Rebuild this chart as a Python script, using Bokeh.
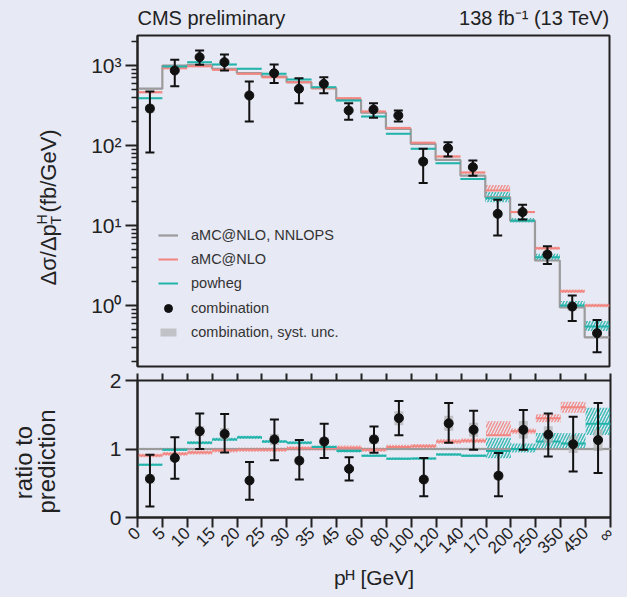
import math
from bokeh.plotting import figure
from bokeh.layouts import column, row
from bokeh.models import FixedTicker, Legend, LegendItem, LinearAxis, Range1d
from bokeh.core.properties import value
from bokeh.embed import file_html
from bokeh.resources import INLINE

BG = "#e7e9f5"
FONT = "Liberation Sans"
INK = "#222222"
GRAY = "#9b9b9b"
RED = "#f2857f"
TEAL = "#22b4aa"

# ---------------- data ----------------
edge_labels = ["0", "5", "10", "15", "20", "25", "30", "35", "45", "60", "80",
               "100", "120", "140", "170", "200", "250", "350", "450", "\u221e"]

data = [290, 866, 1271, 1100, 422, 801, 511, 590, 274, 282, 237, 63, 92.6, 53.6,
        14.0, 14.7, 4.34, 0.97, 0.45]
data_hi = [473, 1180, 1540, 1372, 630, 1030, 692, 714, 338, 338, 274, 91, 110, 65,
           21.0, 18.2, 5.5, 1.33, 0.66]
data_lo = [82, 550, 1020, 866, 200, 603, 338, 451, 210, 222, 200, 34, 73, 42,
           7.5, 11.9, 3.3, 0.64, 0.26]
syst_rel = [0.12, 0.07, 0.06, 0.07, 0.08, 0.07, 0.07, 0.06, 0.06, 0.06, 0.07,
            0.10, 0.08, 0.08, 0.10, 0.10, 0.10, 0.12, 0.14]

pred_nnlops = [513, 1000, 1020, 909, 801, 729, 618, 521, 372, 257, 161, 105, 66, 42,
               22.6, 11.5, 3.65, 0.95, 0.40]
pred_amcnlo = [464, 926, 980, 883, 787, 714, 618, 520, 390, 266, 166, 108, 73, 46,
               27.4, 14.7, 5.2, 1.51, 1.0]
pred_powheg = [390, 972, 1100, 1030, 910, 787, 668, 536, 365, 230, 140, 91, 60, 38,
               21.9, 11.5, 4.0, 1.0, 0.546]

nnlops_unc = [0.02, 0.02, 0.02, 0.02, 0.02, 0.02, 0.02, 0.02, 0.02, 0.02, 0.02,
              0.02, 0.02, 0.02, 0.02, 0.02, 0.02, 0.02, 0.02]
amc_up = [0.03, 0.03, 0.03, 0.03, 0.03, 0.03, 0.03, 0.03, 0.03, 0.03, 0.03,
          0.03, 0.03, 0.03, 0.17, 0.03, 0.04, 0.05, 0.05]
amc_dn = [0.03, 0.03, 0.03, 0.03, 0.03, 0.03, 0.03, 0.03, 0.03, 0.03, 0.03,
          0.03, 0.03, 0.03, 0.0, 0.03, 0.04, 0.05, 0.05]
pow_up = [0.02, 0.02, 0.02, 0.02, 0.02, 0.02, 0.02, 0.02, 0.02, 0.02, 0.02,
          0.02, 0.02, 0.02, 0.20, 0.08, 0.11, 0.14, 0.17]
pow_dn = [0.02, 0.02, 0.02, 0.02, 0.02, 0.02, 0.02, 0.02, 0.02, 0.02, 0.02,
          0.02, 0.02, 0.02, 0.11, 0.05, 0.09, 0.07, 0.12]

ratio_data = [0.565, 0.87, 1.26, 1.22, 0.54, 1.14, 0.83, 1.11, 0.71, 1.14, 1.45,
              0.555, 1.375, 1.28, 0.61, 1.28, 1.21, 1.07, 1.13]
ratio_hi = [0.915, 1.17, 1.52, 1.51, 0.81, 1.43, 1.13, 1.37, 0.88, 1.33, 1.70,
            0.87, 1.67, 1.56, 0.94, 1.57, 1.52, 1.47, 1.67]
ratio_lo = [0.16, 0.565, 1.0, 0.95, 0.26, 0.835, 0.555, 0.87, 0.54, 0.945, 1.2,
            0.31, 1.09, 0.99, 0.31, 0.99, 0.89, 0.67, 0.65]
ratio_nnlops = [1.0, 1.0, 1.0, 1.0, 1.0, 1.0, 1.0, 1.0, 1.0, 1.0, 1.0,
                1.0, 1.0, 1.0, 1.0, 1.0, 1.0, 1.0, 1.0]
ratio_amcnlo = [0.905, 0.93, 0.95, 0.98, 0.99, 0.99, 1.01, 1.01, 1.02, 0.99, 1.03,
                1.04, 1.11, 1.12, 1.20, 1.26, 1.45, 1.61, 2.5]
ratio_powheg = [0.77, 0.99, 1.09, 1.14, 1.17, 1.11, 1.09, 1.03, 0.97, 0.90, 0.857,
                0.86, 0.92, 0.90, 0.97, 1.0, 1.11, 1.08, 1.37]

nb = len(data)
left = list(range(nb))
right = [i + 1 for i in range(nb)]
center = [i + 0.5 for i in range(nb)]
edges = list(range(nb + 1))

# layout geometry (pixels)
LEFT_W = 78
FRAME_W = 472
RIGHT_B = 18
HEAD_H = 32
TOP_FRAME_H = 331
BOT_FRAME_H = 137
GAP_TOP = 12


def band(vals, up, dn):
    return [v * (1 + u) for v, u in zip(vals, up)], [v * (1 - d) for v, d in zip(vals, dn)]


def style_axes(p):
    for ax in p.axis:
        ax.axis_line_width = 2
        ax.axis_line_color = INK
        ax.major_tick_line_width = 2
        ax.major_tick_line_color = INK
        ax.minor_tick_line_color = INK
        ax.major_tick_in = 0
        ax.minor_tick_in = 0
        ax.major_label_text_font = FONT
        ax.major_label_text_color = INK
    p.xgrid.visible = False
    p.ygrid.visible = False
    p.outline_line_color = INK
    p.outline_line_width = 2
    p.outline_line_alpha = 1
    p.background_fill_color = BG
    p.border_fill_color = BG


def text_panel(w, h):
    f = figure(frame_width=w, frame_height=h, x_range=Range1d(0, w), y_range=Range1d(0, h),
               x_axis_type=None, y_axis_type=None, output_backend="svg",
               toolbar_location=None, min_border=0)
    f.outline_line_color = None
    f.background_fill_color = BG
    f.border_fill_color = BG
    f.xgrid.visible = False
    f.ygrid.visible = False
    return f


def put(f, x, y, txt, size, align="left", angle=0.0):
    f.text(x=[x], y=[y], text=[txt], angle=angle, text_font=value(FONT),
           text_font_size=size, text_color=INK, text_align=align,
           text_baseline="middle")


def draw_panel(p, nn, amc, pw, dval, dlo, dhi):
    for vals, up, dn, col in ((nn, nnlops_unc, nnlops_unc, GRAY),
                              (amc, amc_up, amc_dn, RED),
                              (pw, pow_up, pow_dn, TEAL)):
        top, bot = band(vals, up, dn)
        p.quad(left=left, right=right, top=top, bottom=bot, fill_alpha=0,
               line_alpha=0, hatch_pattern="/", hatch_color=col, hatch_alpha=0.85,
               hatch_scale=6, hatch_weight=1.5)
    r_nn = p.step(x=edges, y=list(nn) + [nn[-1]], mode="after", line_color=GRAY,
                  line_width=2.2)
    r_amc = p.segment(x0=left, x1=right, y0=amc, y1=amc, line_color=RED, line_width=2)
    r_pw = p.segment(x0=left, x1=right, y0=pw, y1=pw, line_color=TEAL, line_width=2)
    s_top = [v * (1 + s) for v, s in zip(dval, syst_rel)]
    s_bot = [v * (1 - s) for v, s in zip(dval, syst_rel)]
    r_sys = p.quad(left=[c - 0.18 for c in center], right=[c + 0.18 for c in center],
                   top=s_top, bottom=s_bot, fill_color="#b4b4b4", fill_alpha=0.75,
                   line_alpha=0)
    p.segment(x0=center, x1=center, y0=dlo, y1=dhi, line_color="#111111", line_width=2)
    p.scatter(x=center + center, y=list(dlo) + list(dhi), marker="dash", size=9,
              line_color="#111111", line_width=2)
    r_pt = p.scatter(x=center, y=dval, marker="circle", size=9, fill_color="#111111",
                     line_color="#111111")
    return r_nn, r_amc, r_pw, r_sys, r_pt


def make_legend(items, loc, gw, gh, lh, standoff, spacing=4):
    return Legend(items=items, location=loc, padding=0, margin=0, spacing=spacing,
                  glyph_width=gw, glyph_height=gh, label_height=lh,
                  label_standoff=standoff, label_text_font=FONT,
                  label_text_font_size="14.5px", label_text_color="#333333",
                  border_line_alpha=0, background_fill_alpha=0)


# ---------------- header ----------------
head = figure(frame_width=FRAME_W, frame_height=HEAD_H, x_range=Range1d(0, 1),
              y_range=Range1d(0, HEAD_H), x_axis_type=None, y_axis_type=None,
              output_backend="svg", toolbar_location=None, min_border=0,
              min_border_left=LEFT_W + 59, min_border_right=RIGHT_B)
head.outline_line_color = None
head.background_fill_color = BG
head.border_fill_color = BG
head.xgrid.visible = False
head.ygrid.visible = False
head.text(x=[0], y=[15], text=["CMS preliminary"], text_font=value(FONT),
          text_font_size="20px", text_color=INK, text_align="left", text_baseline="middle")
head.text(x=[1], y=[15], text=["138 fb\u207b\u00b9 (13 TeV)"], text_font=value(FONT),
          text_font_size="20px", text_color=INK, text_align="right", text_baseline="middle")

# ---------------- top panel ----------------
p1 = figure(frame_width=FRAME_W, frame_height=TOP_FRAME_H, x_range=Range1d(0, 19),
            y_range=Range1d(0.1728, 2371), y_axis_type="log", x_axis_location=None,
            output_backend="svg", toolbar_location=None,
            min_border_left=59, min_border_right=RIGHT_B, min_border_top=3,
            min_border_bottom=2)
style_axes(p1)
r_nn, r_amc, r_pw, r_sys, r_pt = draw_panel(p1, pred_nnlops, pred_amcnlo, pred_powheg,
                                           data, data_lo, data_hi)

minor = []
for e in range(-1, 4):
    for k in range(2, 10):
        minor.append(k * 10 ** e)
p1.yaxis.ticker = FixedTicker(ticks=[1, 10, 100, 1000], minor_ticks=minor)
p1.yaxis.major_label_overrides = {1: "10\u2070", 10: "10\u00b9", 100: "10\u00b2",
                                  1000: "10\u00b3"}
p1.yaxis.major_label_text_font_size = "21px"
p1.yaxis.major_tick_out = 12
p1.yaxis.minor_tick_out = 6
p1.yaxis.minor_tick_line_width = 1.5
p1.yaxis.major_label_standoff = 4

# legend-only renderer (no data): thin filled bar = error-bar symbol
r_bar = p1.quad(left=[], right=[], top=[], bottom=[], fill_color="#111111",
                line_color="#111111", line_width=0.5)

legA = make_legend([LegendItem(label="aMC@NLO, NNLOPS", renderers=[r_nn]),
                    LegendItem(label="aMC@NLO", renderers=[r_amc]),
                    LegendItem(label="powheg", renderers=[r_pw])],
                   (21, 73), 20, 20, 20, 13)
legBar = Legend(items=[LegendItem(label=" ", renderers=[r_bar])], location=(29.5, 49.5),
                padding=0, margin=0, glyph_width=3, glyph_height=15, label_height=15,
                label_standoff=0, label_text_font=FONT, label_text_font_size="14.5px",
                border_line_alpha=0, background_fill_alpha=0)
legB = make_legend([LegendItem(label="combination", renderers=[r_pt])],
                   (21, 48), 20, 20, 20, 13)
legC = make_legend([LegendItem(label="combination, syst. unc.", renderers=[r_sys])],
                   (21, 26), 20, 10, 10, 13)
p1.add_layout(legA)
p1.add_layout(legBar)
p1.add_layout(legB)
p1.add_layout(legC)

TOP_H = 3 + TOP_FRAME_H + 2
lf1 = text_panel(LEFT_W, TOP_H)
# y label: panel y = 368 - page_y
put(lf1, 48, 86, "\u0394\u03c3/\u0394p", "22px", angle=math.pi / 2)
put(lf1, 41, 147, "H", "14px", angle=math.pi / 2)
put(lf1, 55, 147, "T", "14px", angle=math.pi / 2)
put(lf1, 48, 159, "(fb/GeV)", "22px", angle=math.pi / 2)

# ---------------- ratio panel ----------------
p2 = figure(frame_width=FRAME_W + 1, frame_height=BOT_FRAME_H, x_range=Range1d(0, 19),
            y_range=Range1d(0, 2), output_backend="svg", toolbar_location=None,
            min_border_left=59, min_border_right=RIGHT_B - 1, min_border_top=GAP_TOP,
            min_border_bottom=80)
# bin-edge ticks in the gap between the two panels
top_ticks = LinearAxis(ticker=FixedTicker(ticks=edges),
                       major_label_overrides={i: "" for i in edges})
p2.add_layout(top_ticks, "above")
style_axes(p2)
top_ticks.axis_line_alpha = 0
top_ticks.major_tick_out = 7
top_ticks.minor_tick_out = 0
top_ticks.major_label_standoff = 0

draw_panel(p2, ratio_nnlops, ratio_amcnlo, ratio_powheg, ratio_data, ratio_lo, ratio_hi)
p2.yaxis.ticker = FixedTicker(ticks=[0, 1, 2])
p2.yaxis.major_label_text_font_size = "21px"
p2.yaxis.major_tick_out = 12
p2.yaxis.minor_tick_out = 0
p2.yaxis.major_label_standoff = 4
p2.below[0].ticker = FixedTicker(ticks=edges)
p2.below[0].major_label_overrides = {i: t for i, t in enumerate(edge_labels)}
p2.below[0].major_label_orientation = math.pi / 4
p2.below[0].major_label_text_font_size = "17px"
p2.below[0].major_label_standoff = 3
p2.below[0].major_tick_out = 10
p2.below[0].minor_tick_out = 0
p2.below[0].axis_label = "p\u1d34 [GeV]"
p2.below[0].axis_label_text_font = FONT
p2.below[0].axis_label_text_font_size = "21px"
p2.below[0].axis_label_text_font_style = "normal"
p2.below[0].axis_label_text_color = INK
p2.below[0].axis_label_standoff = -1

BOT_H = GAP_TOP + BOT_FRAME_H + 80
lf2 = text_panel(LEFT_W, BOT_H)
# panel y = 597 - page_y
put(lf2, 23, 147, "ratio to", "24px", align="center", angle=math.pi / 2)
put(lf2, 46, 148, "prediction", "24px", align="center", angle=math.pi / 2)

layout = column(head, row(lf1, p1, spacing=0), row(lf2, p2, spacing=0), spacing=0,
                styles={"background-color": BG})

html = file_html(layout, INLINE, title="pTH")
html = html.replace("<body>", '<body style="background-color:%s;">' % BG, 1)
open("out.html", "w").write(html)
